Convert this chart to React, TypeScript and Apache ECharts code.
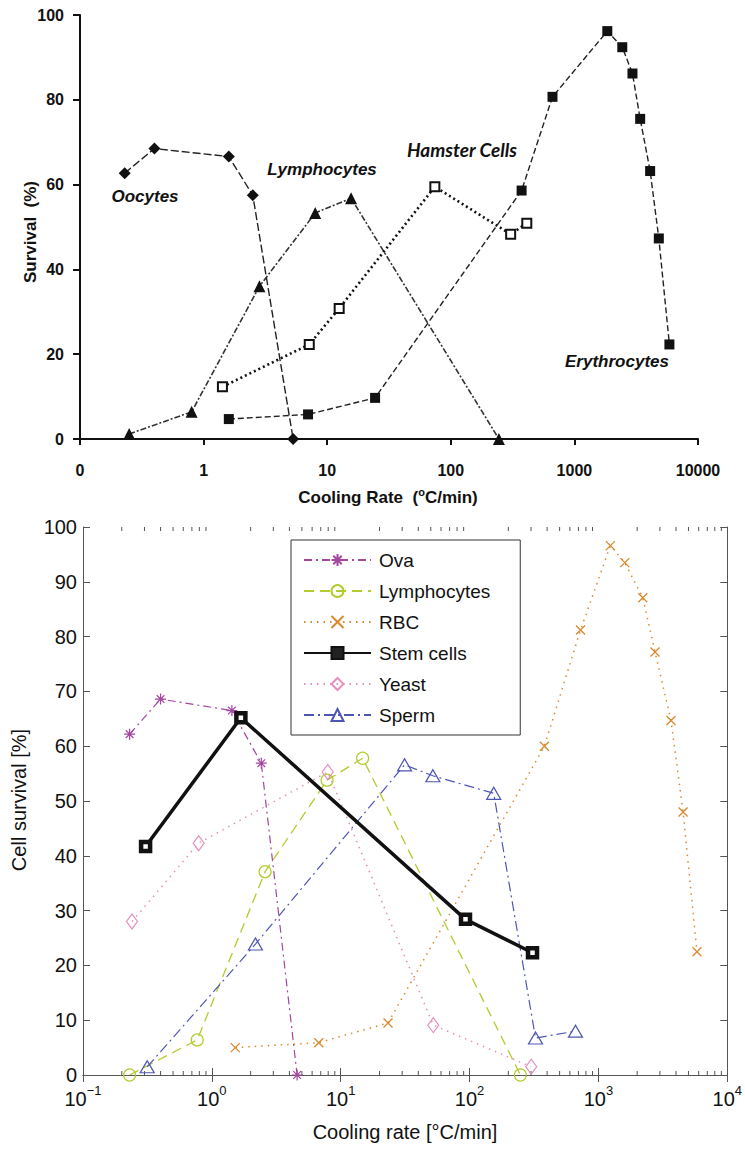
import React, { useEffect, useRef } from "react";
import * as echarts from "echarts";

// ---------- Top chart data (Survival %) ----------
const oocytesX = [0.23, 0.4, 1.6, 2.5, 5.3];
const oocytesY = [62.7, 68.5, 66.6, 57.5, 0];
const lymphTopX = [0.25, 0.8, 2.83, 8.0, 15.6, 245];
const lymphTopY = [1.2, 6.4, 36, 53.3, 56.8, 0];
const hamsterX = [1.42, 7.16, 12.5, 74.3, 305, 412];
const hamsterY = [12.3, 22.3, 30.8, 59.5, 48.3, 50.9];
const erythX = [1.6, 7.0, 24.4, 374, 665, 1846, 2440, 2950, 3405, 4100, 4820, 5870];
const erythY = [4.7, 5.8, 9.7, 58.6, 80.7, 96.2, 92.4, 86.2, 75.5, 63.2, 47.3, 22.3];

// ---------- Bottom chart data (Cell survival %) ----------
const ovaX = [0.23, 0.4, 1.43, 2.42, 4.59];
const ovaY = [62.2, 68.6, 66.5, 56.9, 0];
const lymphX = [0.23, 0.77, 2.59, 7.84, 14.8, 248];
const lymphY = [0, 6.4, 37.1, 53.8, 57.8, 0];
const rbcX = [1.52, 6.76, 23.3, 381, 726, 1239, 1603, 2210, 2750, 3660, 4540, 5820];
const rbcY = [5.0, 5.9, 9.5, 60.0, 81.2, 96.6, 93.5, 87.1, 77.2, 64.7, 48.0, 22.5];
const stemX = [0.306, 1.68, 93, 308];
const stemY = [41.7, 65.2, 28.4, 22.3];
const yeastX = [0.24, 0.79, 7.93, 52.3, 301];
const yeastY = [28.0, 42.3, 55.3, 9.1, 1.5];
const spermX = [0.315, 2.18, 31.3, 51.9, 154, 325, 664];
const spermY = [1.5, 23.9, 56.6, 54.6, 51.4, 6.75, 8.0];

const legendNames = ["Ova", "Lymphocytes", "RBC", "Stem cells", "Yeast", "Sperm"];
const topXTicks = ["0", "1", "10", "100", "1000", "10000"];

// minor tick positions for log axis (2..9 within each decade)
const minorDecades = [0.1, 1, 10, 100, 1000];
const minorMultipliers = [2, 3, 4, 5, 6, 7, 8, 9];

const zip = (xs: number[], ys: number[]) => xs.map((x, i) => [x, ys[i]]);

const FONT = "Liberation Sans, Arial, Helvetica, sans-serif";
const AX = "#555";

const asteriskPath =
  "path://M5,0 L5,10 M0,5 L10,5 M1.5,1.5 L8.5,8.5 M1.5,8.5 L8.5,1.5";
const crossPath = "path://M0,0 L10,10 M0,10 L10,0";

export default function App() {
  const ref = useRef<HTMLDivElement>(null);

  useEffect(() => {
    if (!ref.current) return;
    const chart = echarts.init(ref.current, undefined, { renderer: "svg" });

    const minorData: number[][] = [];
    minorDecades.forEach((d) => minorMultipliers.forEach((m) => minorData.push([d * m, 0])));

    const topAxisLabel = {
      fontFamily: FONT,
      fontWeight: "bold" as const,
      fontSize: 16,
      color: "#111",
    };
    const curveLabel = {
      fontFamily: FONT,
      fontWeight: "bold",
      fontStyle: "italic",
      fontSize: 17,
      fill: "#111",
      align: "center",
      verticalAlign: "middle",
    };

    const option: any = {
      animation: false,
      backgroundColor: "#fff",
      grid: [
        { left: 80, top: 15, width: 618, height: 424 },
        { left: 83, top: 527, width: 645, height: 548 },
      ],
      xAxis: [
        {
          type: "log",
          gridIndex: 0,
          min: 0.1,
          max: 10000,
          logBase: 10,
          axisLine: { show: true, lineStyle: { color: "#111", width: 2 } },
          axisTick: { show: true, inside: false, length: 6, lineStyle: { color: "#111", width: 2 } },
          axisLabel: {
            ...topAxisLabel,
            margin: 23,
            formatter: (v: number) => topXTicks[Math.round(Math.log10(v)) + 1],
          },
          splitLine: { show: false },
          minorTick: { show: false },
        },
        {
          type: "log",
          gridIndex: 1,
          min: 0.1,
          max: 10000,
          logBase: 10,
          position: "bottom",
          axisLine: { show: true, lineStyle: { color: AX, width: 1 } },
          axisTick: { show: true, inside: true, length: 7, lineStyle: { color: AX, width: 1 } },
          axisLabel: {
            margin: 9,
            formatter: (v: number) => {
              const e = Math.round(Math.log10(v));
              return "{b|10}{s|" + (e < 0 ? "\u2212" + -e : String(e)) + "}";
            },
            rich: {
              b: { fontFamily: FONT, fontSize: 20, color: "#111", lineHeight: 25, verticalAlign: "bottom" },
              s: { fontFamily: FONT, fontSize: 13, color: "#111", lineHeight: 14, verticalAlign: "top" },
            },
          },
          splitLine: { show: false },
        },
        {
          type: "log",
          gridIndex: 1,
          min: 0.1,
          max: 10000,
          logBase: 10,
          position: "top",
          axisLine: { show: true, lineStyle: { color: AX, width: 1 } },
          axisTick: { show: true, inside: true, length: 7, lineStyle: { color: AX, width: 1 } },
          axisLabel: { show: false },
          splitLine: { show: false },
        },
      ],
      yAxis: [
        {
          type: "value",
          gridIndex: 0,
          min: 0,
          max: 100,
          interval: 20,
          axisLine: { show: true, lineStyle: { color: "#111", width: 2 } },
          axisTick: { show: true, inside: false, length: 7, lineStyle: { color: "#111", width: 2 } },
          axisLabel: { ...topAxisLabel, margin: 16 },
          splitLine: { show: false },
        },
        {
          type: "value",
          gridIndex: 1,
          min: 0,
          max: 100,
          interval: 10,
          position: "left",
          axisLine: { show: true, lineStyle: { color: AX, width: 1 } },
          axisTick: { show: true, inside: true, length: 7, lineStyle: { color: AX, width: 1 } },
          axisLabel: { fontFamily: FONT, fontSize: 20, color: "#111", margin: 6 },
          splitLine: { show: false },
        },
        {
          type: "value",
          gridIndex: 1,
          min: 0,
          max: 100,
          interval: 10,
          position: "right",
          axisLine: { show: true, lineStyle: { color: AX, width: 1 } },
          axisTick: { show: true, inside: true, length: 7, lineStyle: { color: AX, width: 1 } },
          axisLabel: { show: false },
          splitLine: { show: false },
        },
      ],
      legend: {
        data: legendNames.map((n) =>
          n === "Stem cells" ? { name: n, itemStyle: { color: "#222", borderColor: "#111", borderWidth: 2 } } : n
        ),
        orient: "vertical",
        left: 291,
        top: 540,
        itemWidth: 67,
        itemHeight: 15,
        itemGap: 11,
        padding: [10, 30, 10, 12],
        borderColor: "#333",
        borderWidth: 1,
        selectedMode: false,
        textStyle: { fontFamily: FONT, fontSize: 19, color: "#111", lineHeight: 20, padding: [0, 0, 0, 3] },
      },
      series: [
        // ----- top chart -----
        {
          name: "Oocytes (top)",
          type: "line",
          xAxisIndex: 0,
          yAxisIndex: 0,
          data: zip(oocytesX, oocytesY),
          symbol: "diamond",
          symbolSize: 12,
          itemStyle: { color: "#111" },
          lineStyle: { color: "#222", width: 1.4, type: [8, 3] },
        },
        {
          name: "Lymphocytes (top)",
          type: "line",
          xAxisIndex: 0,
          yAxisIndex: 0,
          data: zip(lymphTopX, lymphTopY),
          symbol: "triangle",
          symbolSize: 12,
          itemStyle: { color: "#111" },
          lineStyle: { color: "#333", width: 1.6, type: [6, 2, 2, 2] },
        },
        {
          name: "Hamster Cells (top)",
          type: "line",
          xAxisIndex: 0,
          yAxisIndex: 0,
          data: zip(hamsterX, hamsterY),
          symbol: "rect",
          symbolSize: 9,
          itemStyle: { color: "#fff", borderColor: "#111", borderWidth: 2 },
          lineStyle: { color: "#111", width: 2.6, type: [2, 3] },
        },
        {
          name: "Erythrocytes (top)",
          type: "line",
          xAxisIndex: 0,
          yAxisIndex: 0,
          data: zip(erythX, erythY),
          symbol: "rect",
          symbolSize: 10,
          itemStyle: { color: "#111" },
          lineStyle: { color: "#222", width: 1.4, type: [6, 3] },
        },
        // ----- bottom chart -----
        {
          name: "Ova",
          type: "line",
          xAxisIndex: 1,
          yAxisIndex: 1,
          data: zip(ovaX, ovaY),
          symbol: asteriskPath,
          symbolSize: 11,
          itemStyle: { color: "transparent", borderColor: "#a3479f", borderWidth: 1.2 },
          lineStyle: { color: "#a3479f", width: 1.2, type: [8, 4, 2, 4] },
        },
        {
          name: "Lymphocytes",
          type: "line",
          xAxisIndex: 1,
          yAxisIndex: 1,
          data: zip(lymphX, lymphY),
          symbol: "circle",
          symbolSize: 12,
          itemStyle: { color: "transparent", borderColor: "#b3cb2d", borderWidth: 1.2 },
          lineStyle: { color: "#b3cb2d", width: 1.3, type: [10, 6] },
        },
        {
          name: "RBC",
          type: "line",
          xAxisIndex: 1,
          yAxisIndex: 1,
          data: zip(rbcX, rbcY),
          symbol: crossPath,
          symbolSize: 9,
          itemStyle: { color: "transparent", borderColor: "#d8892d", borderWidth: 1.3 },
          lineStyle: { color: "#d8892d", width: 1.5, type: [1.5, 5] },
        },
        {
          name: "Stem cells",
          type: "line",
          xAxisIndex: 1,
          yAxisIndex: 1,
          z: 5,
          data: zip(stemX, stemY),
          symbol: "rect",
          symbolSize: 9,
          itemStyle: { color: "#fff", borderColor: "#111", borderWidth: 4.5 },
          lineStyle: { color: "#111", width: 3.5, type: "solid" },
        },
        {
          name: "Yeast",
          type: "line",
          xAxisIndex: 1,
          yAxisIndex: 1,
          data: zip(yeastX, yeastY),
          symbol: "diamond",
          symbolSize: [11, 15],
          itemStyle: { color: "transparent", borderColor: "#e58fbf", borderWidth: 1.2 },
          lineStyle: { color: "#e58fbf", width: 1.5, type: [1.5, 5] },
        },
        {
          name: "Sperm",
          type: "line",
          xAxisIndex: 1,
          yAxisIndex: 1,
          data: zip(spermX, spermY),
          symbol: "triangle",
          symbolSize: [14, 12],
          itemStyle: { color: "transparent", borderColor: "#4d56b3", borderWidth: 1.2 },
          lineStyle: { color: "#4d56b3", width: 1.2, type: [10, 4, 2, 4] },
        },
        {
          name: "minor ticks",
          type: "custom",
          xAxisIndex: 1,
          yAxisIndex: 1,
          silent: true,
          clip: false,
          data: minorData,
          renderItem: (params: any, api: any) => {
            const x = api.value(0);
            const pb = api.coord([x, 0]);
            const pt = api.coord([x, 100]);
            return {
              type: "group",
              children: [
                { type: "line", shape: { x1: pb[0], y1: pb[1], x2: pb[0], y2: pb[1] - 4 }, style: { stroke: AX, lineWidth: 1 } },
                { type: "line", shape: { x1: pt[0], y1: pt[1], x2: pt[0], y2: pt[1] + 4 }, style: { stroke: AX, lineWidth: 1 } },
              ],
            };
          },
        },
      ],
      graphic: [
        {
          type: "text",
          x: 30,
          y: 232,
          rotation: Math.PI / 2,
          style: { text: "Survival  (%)", fontFamily: FONT, fontWeight: "bold", fontSize: 17, fill: "#111", align: "center", verticalAlign: "middle" },
        },
        {
          type: "text",
          x: 388,
          y: 496,
          style: {
            text: "{a|Cooling Rate  (}{s|o}{a|C/min)}",
            align: "center",
            verticalAlign: "middle",
            rich: {
              a: { fontFamily: FONT, fontWeight: "bold", fontSize: 17, fill: "#111", lineHeight: 20, verticalAlign: "bottom" },
              s: { fontFamily: FONT, fontWeight: "bold", fontSize: 11, fill: "#111", lineHeight: 11, verticalAlign: "top" },
            },
          },
        },
        { type: "text", x: 145, y: 196, style: { ...curveLabel, text: "Oocytes" } },
        { type: "text", x: 322, y: 169, style: { ...curveLabel, text: "Lymphocytes" } },
        {
          type: "text",
          x: 462,
          y: 149,
          style: { ...curveLabel, text: "Hamster Cells", fontFamily: "Lato, Open Sans, sans-serif", fontSize: 19 },
        },
        { type: "text", x: 617, y: 361, style: { ...curveLabel, text: "Erythrocytes" } },
        {
          type: "text",
          x: 19,
          y: 800,
          rotation: Math.PI / 2,
          style: { text: "Cell survival [%]", fontFamily: FONT, fontSize: 20, fill: "#111", align: "center", verticalAlign: "middle" },
        },
        {
          type: "text",
          x: 405,
          y: 1132,
          style: { text: "Cooling rate [°C/min]", fontFamily: FONT, fontSize: 20, fill: "#111", align: "center", verticalAlign: "middle" },
        },
      ],
    };

    chart.setOption(option);
    return () => chart.dispose();
  }, []);

  return (
    <div
      ref={ref}
      style={{ position: "absolute", left: 0, top: 0, width: 745, height: 1153, background: "#fff" }}
    />
  );
}
